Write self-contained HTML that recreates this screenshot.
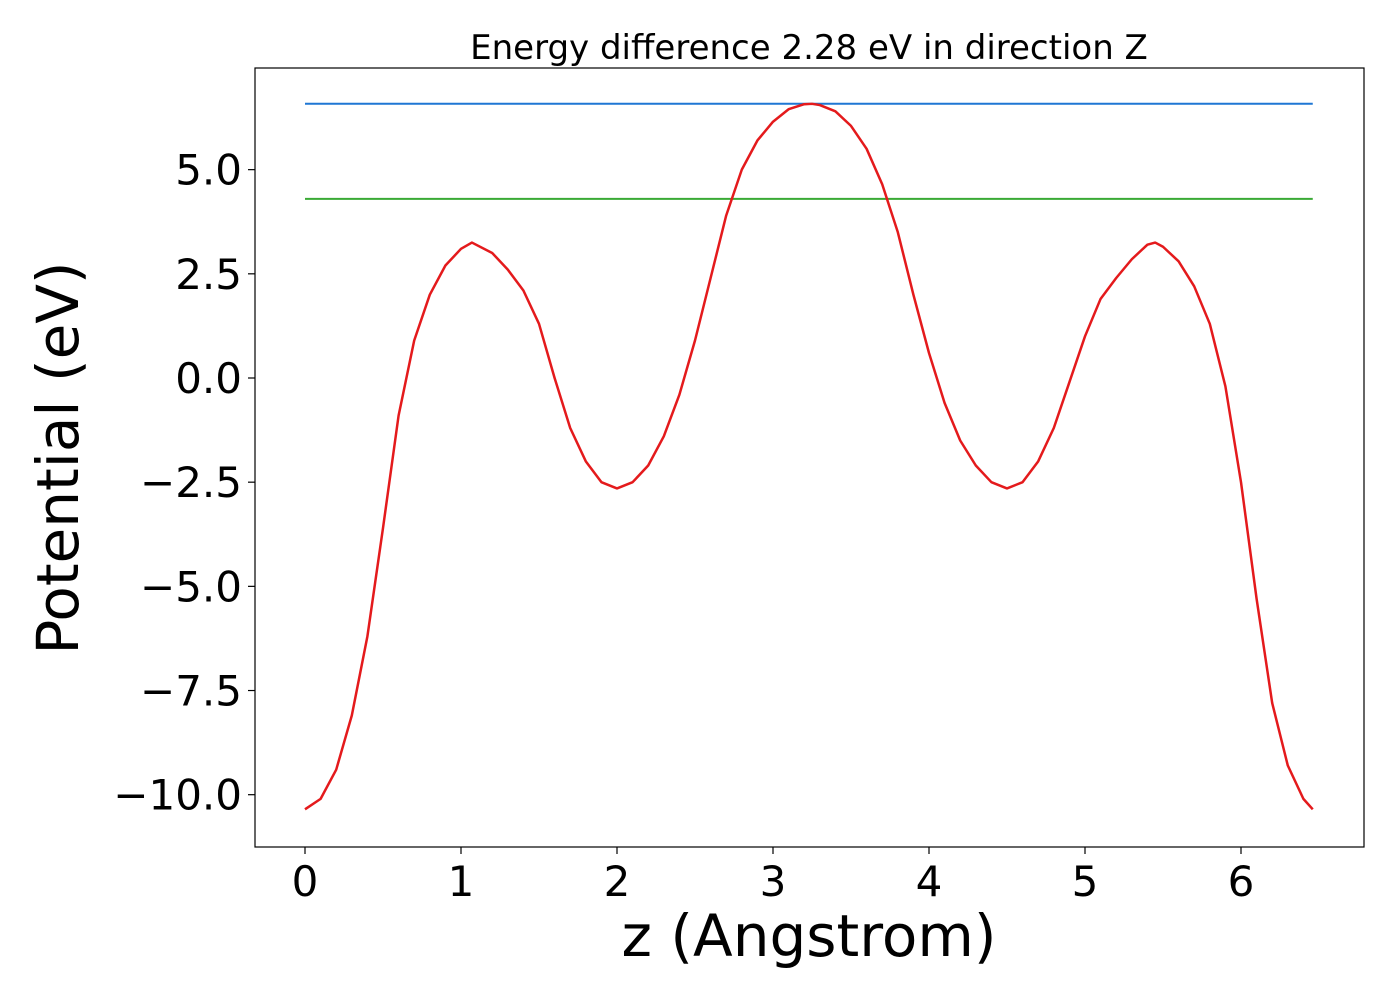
<!DOCTYPE html>
<html><head><meta charset="utf-8"><style>
body{margin:0;background:#fff;}
svg{display:block;font-family:"DejaVu Sans","Liberation Sans",sans-serif;}
</style></head><body>
<svg id="chart" width="1400" height="1000">
<rect width="1400" height="1000" fill="#fff"/>
<text x="809" y="59" font-size="34" text-anchor="middle">Energy difference 2.28 eV in direction Z</text>
<g id="plot"></g>
<rect x="255" y="68" width="1109" height="779" fill="none" stroke="#000" stroke-width="1.2"/>
<text x="809" y="956" font-size="58" text-anchor="middle">z (Angstrom)</text>
<text transform="translate(78,458) rotate(-90)" font-size="58" text-anchor="middle">Potential (eV)</text>
</svg>
<script>
const xs=[0,0.1,0.2,0.3,0.4,0.5,0.6,0.7,0.8,0.9,1.0,1.07,1.2,1.3,1.4,1.5,1.6,1.7,1.8,1.9,2.0,2.1,2.2,2.3,2.4,2.5,2.6,2.7,2.8,2.9,3.0,3.1,3.2,3.25,3.3,3.4,3.5,3.6,3.7,3.8,3.9,4.0,4.1,4.2,4.3,4.4,4.5,4.6,4.7,4.8,4.9,5.0,5.1,5.2,5.3,5.4,5.45,5.5,5.6,5.7,5.8,5.9,6.0,6.1,6.2,6.3,6.4,6.46];
const potential=[-10.35,-10.1,-9.4,-8.1,-6.2,-3.6,-0.9,0.9,2.0,2.7,3.1,3.25,3.0,2.6,2.1,1.3,0.0,-1.2,-2.0,-2.5,-2.65,-2.5,-2.1,-1.4,-0.4,0.9,2.4,3.9,5.0,5.7,6.15,6.45,6.57,6.58,6.55,6.4,6.05,5.5,4.65,3.5,2.0,0.6,-0.6,-1.5,-2.1,-2.5,-2.65,-2.5,-2.0,-1.2,-0.1,1.0,1.9,2.4,2.85,3.2,3.25,3.15,2.8,2.2,1.3,-0.2,-2.5,-5.3,-7.8,-9.3,-10.1,-10.35];
const maxLevel=6.58;
const avgLevel=4.30;
const xTicks=[0,1,2,3,4,5,6];
const yTicks=[5.0,2.5,0.0,-2.5,-5.0,-7.5,-10.0];
const NS="http://www.w3.org/2000/svg";
const X=v=>305+v*156, Y=v=>378-v*41.67;
const g=document.getElementById('plot');
function mk(t,a){const e=document.createElementNS(NS,t);for(const k in a)e.setAttribute(k,a[k]);g.appendChild(e);return e;}
const x0=xs[0],x1=xs[xs.length-1];
let l=mk('line',{x1:X(x0),x2:X(x1),y1:Y(maxLevel),y2:Y(maxLevel),stroke:'#1f77d4','stroke-width':2});


l=mk('line',{x1:X(x0),x2:X(x1),y1:Y(avgLevel),y2:Y(avgLevel),stroke:'#3aaa35','stroke-width':2});


const p=mk('polyline',{points:xs.map((x,i)=>X(x)+','+Y(potential[i])).join(' '),fill:'none',stroke:'#e41a1c','stroke-width':2.5,'stroke-linejoin':'round'});


xTicks.forEach(t=>{
 mk('line',{x1:X(t),x2:X(t),y1:847,y2:854,stroke:'#000','stroke-width':1.2});
 const e=mk('text',{x:X(t),y:896,'font-size':42,'text-anchor':'middle'});e.textContent=t;
 
 
});
yTicks.forEach(t=>{
 mk('line',{x1:248,x2:255,y1:Y(t),y2:Y(t),stroke:'#000','stroke-width':1.2});
 const e=mk('text',{x:242,y:Y(t)+15,'font-size':42,'text-anchor':'end'});e.textContent=(t<0?'\u2212':'')+Math.abs(t).toFixed(1);
 
 
});
</script>
</body></html>
